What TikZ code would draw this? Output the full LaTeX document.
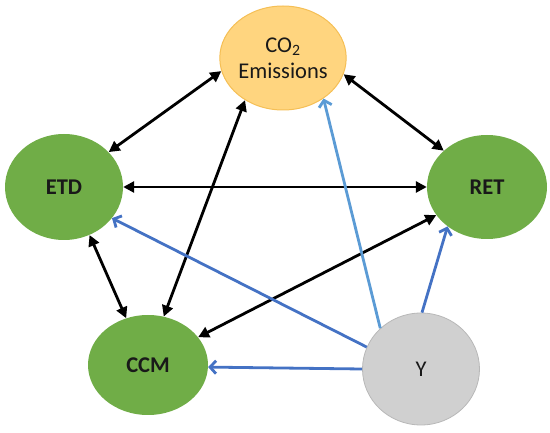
\documentclass[tikz,border=0pt]{standalone}
\usepackage{fontspec}
\setmainfont{Carlito}
\usetikzlibrary{arrows.meta,shapes.geometric}
\definecolor{grn}{HTML}{70AD47}
\definecolor{gold}{HTML}{FFD57F}
\definecolor{goldline}{HTML}{F5BF55}
\definecolor{ygray}{HTML}{D0D0D0}
\definecolor{yline}{HTML}{B8B8B8}
\definecolor{blu}{HTML}{4472C4}
\definecolor{lblu}{HTML}{5B9BD5}
\tikzset{
  ell/.style={ellipse, inner sep=0pt, font=\fontsize{22.5}{27}\selectfont, text=black!90},
  gnode/.style={ell, fill=grn, font=\fontsize{22.5}{27}\selectfont\bfseries},
  blk/.style={line width=2.8pt, draw=black, {Triangle[length=11pt,width=11pt]}-{Triangle[length=11pt,width=11pt]}},
  bluarr/.style={line width=2.8pt, draw=blu, -{Straight Barb[length=6pt,width=13pt,line width=2.8pt]}},
}
\begin{document}
\begin{tikzpicture}[x=1pt,y=-1pt]
\useasboundingbox (0,0) rectangle (550,433);
\node[ell, fill=gold, draw=goldline, line width=1pt, minimum width=120pt, minimum height=104pt, align=center] (co2) at (283,58) {CO\textsubscript{2}\\[-1pt]Emissions};
\node[gnode, minimum width=118pt, minimum height=106pt] (etd) at (64,187) {ETD};
\node[gnode, minimum width=120pt, minimum height=104pt] (ret) at (487,187) {RET};
\node[gnode, minimum width=120pt, minimum height=100pt] (ccm) at (148,365) {CCM};
\node[ell, fill=ygray, draw=yline, line width=0.8pt, minimum width=117pt, minimum height=112pt] (y) at (421,369) {Y};

\draw[blk] (co2.192) -- (etd.38);
\draw[blk] (co2.345) -- (ret.140);
\draw[blk] (etd.0) -- (ret.180);
\draw[blk] (etd.298) -- (ccm.115);
\draw[blk] (co2.228) -- (ccm.72);
\draw[blk] (ret.209) -- (ccm.29);

\draw[bluarr, draw=lblu] (y.135) -- (co2.315);
\draw[bluarr] (y.158) -- (etd.327);
\draw[bluarr] (y.180) -- (ccm.358);
\draw[bluarr] (y.89) -- (ret.225);
\end{tikzpicture}
\end{document}
